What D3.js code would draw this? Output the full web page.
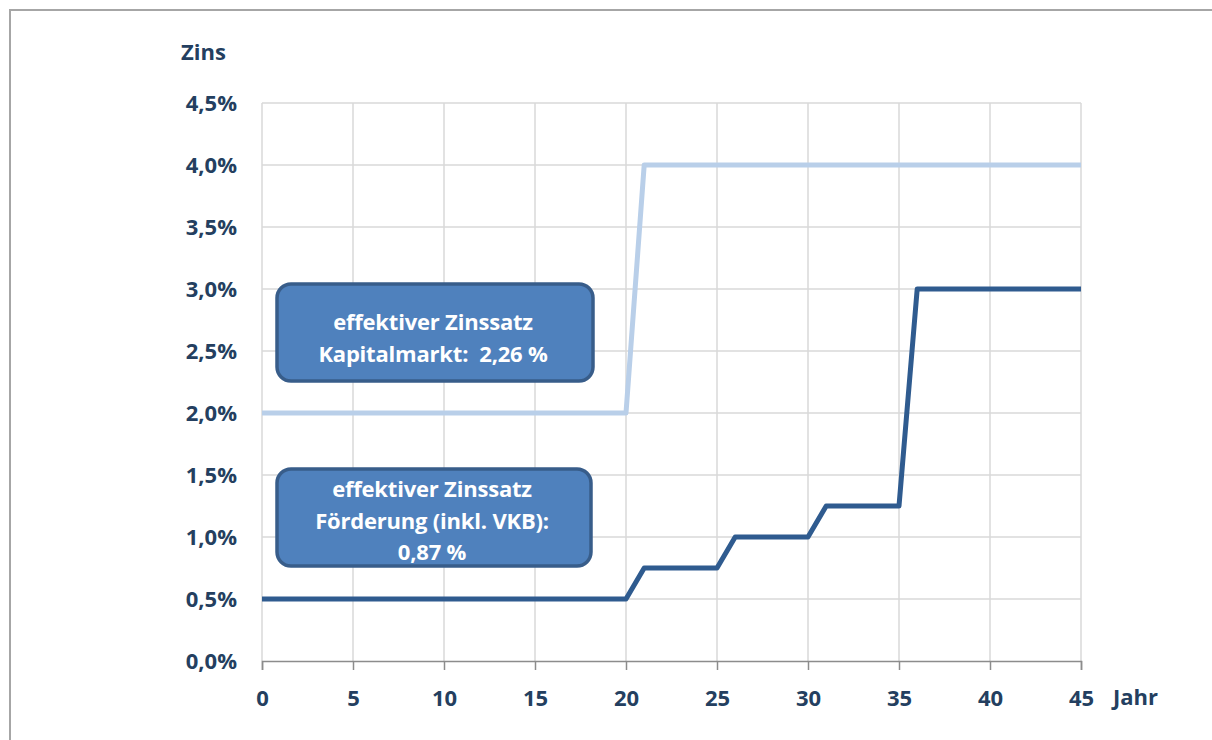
<!DOCTYPE html>
<html>
<head>
<meta charset="utf-8">
<script src="https://cdn.jsdelivr.net/npm/d3@7"></script>
<style>
  body { margin: 0; background: #fff; }
  svg text { font-family: "Open Sans", "Liberation Sans", sans-serif; font-weight: bold; }
</style>
</head>
<body>
<div id="wrapper"></div>
<script>
// Jahr 0..45
const years = [0,1,2,3,4,5,6,7,8,9,10,11,12,13,14,15,16,17,18,19,20,21,22,23,24,25,26,27,28,29,30,31,32,33,34,35,36,37,38,39,40,41,42,43,44,45]
// Zins Kapitalmarkt (%)
const kapitalmarkt = [2,2,2,2,2,2,2,2,2,2,2,2,2,2,2,2,2,2,2,2,2,4,4,4,4,4,4,4,4,4,4,4,4,4,4,4,4,4,4,4,4,4,4,4,4,4]
// Zins Förderung (%)
const foerderung = [0.5,0.5,0.5,0.5,0.5,0.5,0.5,0.5,0.5,0.5,0.5,0.5,0.5,0.5,0.5,0.5,0.5,0.5,0.5,0.5,0.5,0.75,0.75,0.75,0.75,0.75,1,1,1,1,1,1.25,1.25,1.25,1.25,1.25,3,3,3,3,3,3,3,3,3,3]
const xTicks = [0,5,10,15,20,25,30,35,40,45]
const yTicks = [0,0.5,1,1.5,2,2.5,3,3.5,4,4.5]
const boxes = [
  { lines: ["effektiver Zinssatz", "Kapitalmarkt:  2,26 %"] },
  { lines: ["effektiver Zinssatz", "Förderung (inkl. VKB):", "0,87 %"] }
]

let dimensions = {
  width: 1212,
  height: 740,
  margin: { top: 103, right: 131, bottom: 79, left: 262 }
}
dimensions.boundedWidth = dimensions.width - dimensions.margin.left - dimensions.margin.right
dimensions.boundedHeight = dimensions.height - dimensions.margin.top - dimensions.margin.bottom

const textColor = "#243f60"
const labelSize = "22px"

const svg = d3.select("#wrapper").append("svg")
  .attr("width", dimensions.width)
  .attr("height", dimensions.height)

// outer frame
svg.append("rect")
  .attr("x", 10).attr("y", 10)
  .attr("width", 1230).attr("height", 760)
  .attr("fill", "none")
  .attr("stroke", "#a6a6a6")
  .attr("stroke-width", 2)

const bounds = svg.append("g")
  .attr("transform", `translate(${dimensions.margin.left},${dimensions.margin.top})`)

const xScale = d3.scaleLinear()
  .domain([0, 45])
  .range([0, dimensions.boundedWidth])

const yScale = d3.scaleLinear()
  .domain([0, 4.5])
  .range([dimensions.boundedHeight, 0])

// grid
bounds.append("g")
  .selectAll("line")
  .data(yTicks.slice(1))
  .join("line")
  .attr("x1", 0).attr("x2", dimensions.boundedWidth)
  .attr("y1", d => yScale(d)).attr("y2", d => yScale(d))
  .attr("stroke", "#d9d9d9").attr("stroke-width", 1.5)

bounds.append("g")
  .selectAll("line")
  .data(xTicks)
  .join("line")
  .attr("x1", d => xScale(d)).attr("x2", d => xScale(d))
  .attr("y1", 0).attr("y2", dimensions.boundedHeight)
  .attr("stroke", "#d9d9d9").attr("stroke-width", 1.5)

// x axis
const xAxis = bounds.append("g")
  .attr("transform", `translate(0,${dimensions.boundedHeight})`)
  .call(d3.axisBottom(xScale).tickValues(xTicks).tickSize(9).tickPadding(20))
xAxis.select(".domain").attr("stroke", "#8c8c8c").attr("stroke-width", 1.5)
xAxis.selectAll(".tick line").attr("stroke", "#8c8c8c").attr("stroke-width", 1.5)
xAxis.selectAll("text")
  .attr("fill", textColor)
  .style("font-size", labelSize)
  .style("font-family", "'Open Sans', sans-serif")
  .style("font-weight", "bold")

// y axis labels
const fmt = d => d3.format(".1f")(d).replace(".", ",") + "%"
bounds.append("g")
  .selectAll("text")
  .data(yTicks)
  .join("text")
  .attr("x", -25)
  .attr("y", d => yScale(d))
  .attr("dy", "0.35em")
  .attr("text-anchor", "end")
  .attr("fill", textColor)
  .style("font-size", labelSize)
  .text(fmt)

svg.append("text")
  .attr("x", 181).attr("y", 60)
  .attr("fill", textColor)
  .style("font-size", labelSize)
  .text("Zins")

svg.append("text")
  .attr("x", 1113).attr("y", 705)
  .attr("fill", textColor)
  .style("font-size", labelSize)
  .text("Jahr")

// lines
const lineGen = series => d3.line()
  .x((d, i) => xScale(years[i]))
  .y(d => yScale(d))(series)

bounds.append("path")
  .attr("d", lineGen(kapitalmarkt))
  .attr("fill", "none")
  .attr("stroke", "#b9cfe9")
  .attr("stroke-width", 5)
  .attr("stroke-linejoin", "round")

bounds.append("path")
  .attr("d", lineGen(foerderung))
  .attr("fill", "none")
  .attr("stroke", "#2f5b8f")
  .attr("stroke-width", 5)
  .attr("stroke-linejoin", "round")

// annotation boxes
const boxLayout = [
  { x: 277, y: 284, w: 316, h: 97, firstLine: 330 },
  { x: 277, y: 469, w: 314, h: 97, firstLine: 497 }
]
boxes.forEach((b, i) => {
  const l = boxLayout[i]
  const g = svg.append("g")
  g.append("rect")
    .attr("x", l.x).attr("y", l.y)
    .attr("width", l.w).attr("height", l.h)
    .attr("rx", 14)
    .attr("fill", "#4f81bd")
    .attr("stroke", "#385d8a")
    .attr("stroke-width", 3.5)
  g.selectAll("text")
    .data(b.lines)
    .join("text")
    .attr("x", l.x + l.w / 2 - 2)
    .attr("y", (d, j) => l.firstLine + j * 31.5)
    .attr("text-anchor", "middle")
    .attr("fill", "#fff")
    .style("font-size", "22px")
    .style("letter-spacing", "-0.2px")
    .style("white-space", "pre")
    .text(d => d)
})
</script>
</body>
</html>
